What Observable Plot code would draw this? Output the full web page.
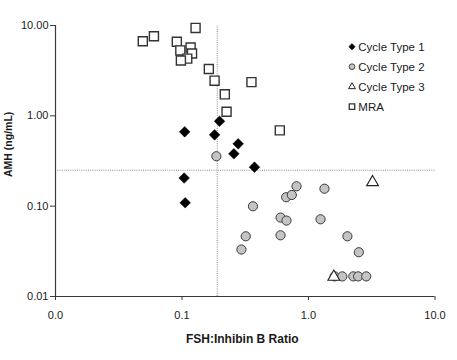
<!DOCTYPE html>
<html>
<head>
<meta charset="utf-8">
<script src="https://cdn.jsdelivr.net/npm/d3@7"></script>
<script src="https://cdn.jsdelivr.net/npm/@observablehq/plot@0.6"></script>
<style>
  body { margin: 0; background: #fff; }
  #wrap { position: relative; width: 457px; height: 360px; font-family: "Liberation Sans", Arial, sans-serif; }
  #legend { position: absolute; left: 340px; top: 36px; }
</style>
</head>
<body>
<div id="wrap"></div>
<script>
// ---- Data ----
const seriesNames = ["Cycle Type 1", "Cycle Type 2", "Cycle Type 3", "MRA"];

const type1X = [0.198, 0.105, 0.181, 0.278, 0.257, 0.374, 0.104, 0.106];
const type1Y = [0.87, 0.665, 0.616, 0.49, 0.38, 0.27, 0.205, 0.109];

const type2X = [0.187, 0.364, 0.319, 0.295, 0.601, 0.670, 0.601, 0.666, 0.738, 0.804, 1.337, 1.245, 2.03, 2.50, 1.61, 1.85, 2.26, 2.47, 2.86];
const type2Y = [0.357, 0.0997, 0.0464, 0.0331, 0.0748, 0.0693, 0.0476, 0.1255, 0.133, 0.166, 0.156, 0.0716, 0.0464, 0.0309, 0.0167, 0.0167, 0.0167, 0.0167, 0.0167];

const type3X = [1.585, 3.21];
const type3Y = [0.0165, 0.184];

const mraX = [0.049, 0.060, 0.091, 0.097, 0.117, 0.120, 0.110, 0.098, 0.128, 0.163, 0.181, 0.218, 0.225, 0.354, 0.593];
const mraY = [6.7, 7.6, 6.6, 5.3, 5.7, 4.9, 4.3, 4.1, 9.4, 3.3, 2.45, 1.73, 1.11, 2.36, 0.69];

const cutoffX = [0.19];
const cutoffY = [0.25];

const xTicks = [0.01, 0.1, 1, 10];
const yTicks = [0.01, 0.1, 1, 10];
const xDomain = [0.01, 10];
const yDomain = [0.01, 10];

const xLabel = "FSH:Inhibin B Ratio";
const yLabel = "AMH (ng/mL)";

// ---- Build tables ----
const toRows = (xs, ys) => xs.map((x, i) => ({x, y: ys[i]}));
const type1 = toRows(type1X, type1Y);
const type2 = toRows(type2X, type2Y);
const type3 = toRows(type3X, type3Y);
const mra = toRows(mraX, mraY);

const axisColor = "#3a3a3a";
const font = "'Liberation Sans', Arial, sans-serif";

const chart = Plot.plot({
  width: 457,
  height: 360,
  marginLeft: 55,
  marginRight: 22.5,
  marginTop: 25,
  marginBottom: 64,
  style: { fontFamily: font, fontSize: "11px", background: "white", color: "#1a1a1a" },
  x: { type: "log", domain: xDomain },
  y: { type: "log", domain: yDomain },
  marks: [
    Plot.ruleX(cutoffX, { y1: yDomain[0], y2: yDomain[1], stroke: "#8a8a8a", strokeWidth: 1, strokeDasharray: "1,1.2" }),
    Plot.ruleY(cutoffY, { x1: xDomain[0], x2: xDomain[1], stroke: "#8a8a8a", strokeWidth: 1, strokeDasharray: "1,1.2" }),
    Plot.ruleX([xDomain[0]], { stroke: axisColor, strokeWidth: 1.2 }),
    Plot.ruleY([yDomain[0]], { stroke: axisColor, strokeWidth: 1.2 }),
    Plot.axisY({ ticks: yTicks, tickFormat: d3.format(".2f"), tickSize: 5, tickPadding: 2, label: null, stroke: axisColor }),
    Plot.axisX({ ticks: xTicks, tickFormat: d3.format(".1f"), tickSize: 4, tickPadding: 11, label: null, stroke: axisColor }),
    Plot.dot(mra, { x: "x", y: "y", symbol: "square", r: 5.1, fill: "white", stroke: "#333", strokeWidth: 1.4 }),
    Plot.dot(type1, { x: "x", y: "y", symbol: "diamond2", r: 4.8, fill: "black", stroke: "black", strokeWidth: 0.5 }),
    Plot.dot(type2, { x: "x", y: "y", symbol: "circle", r: 4.6, fill: "#c4c4c4", stroke: "#3a3a3a", strokeWidth: 1 }),
    Plot.dot(type3, { x: "x", y: "y", symbol: "triangle", r: 4.4, fill: "white", stroke: "#222", strokeWidth: 1.1 }),
    Plot.text([xLabel], { frameAnchor: "bottom", dy: 46, dx: -3, fontWeight: "bold", fontSize: 12, fill: "#1a1a1a" }),
    Plot.text([yLabel], { frameAnchor: "left", dx: -47, dy: 16, rotate: -90, fontWeight: "bold", fontSize: 10.5, fill: "#1a1a1a" })
  ]
});

const wrap = document.getElementById("wrap");
wrap.appendChild(chart);

// ---- Legend ----
const legendSymbols = [
  { type: d3.symbolDiamond2, size: 26, fill: "black", stroke: "black", sw: 0.5 },
  { type: d3.symbolCircle, size: 26, fill: "#c4c4c4", stroke: "#3a3a3a", sw: 0.9 },
  { type: d3.symbolTriangle, size: 20, fill: "white", stroke: "#222", sw: 1 },
  { type: d3.symbolSquare, size: 30, fill: "white", stroke: "#333", sw: 1.3 }
];
const lg = d3.select(wrap).append("svg")
  .attr("id", "legend")
  .attr("width", 110).attr("height", 90)
  .style("font-family", font).style("font-size", "11.5px");
const rows = lg.selectAll("g").data(seriesNames).join("g")
  .attr("transform", (d, i) => `translate(0,${10.7 + i * 20})`);
rows.append("path")
  .attr("transform", "translate(12,0)")
  .attr("d", (d, i) => d3.symbol(legendSymbols[i].type, legendSymbols[i].size)())
  .attr("fill", (d, i) => legendSymbols[i].fill)
  .attr("stroke", (d, i) => legendSymbols[i].stroke)
  .attr("stroke-width", (d, i) => legendSymbols[i].sw);
rows.append("text")
  .attr("x", 18.3).attr("y", 0).attr("dy", "0.36em")
  .attr("fill", "#1a1a1a")
  .text(d => d);
</script>
</body>
</html>
